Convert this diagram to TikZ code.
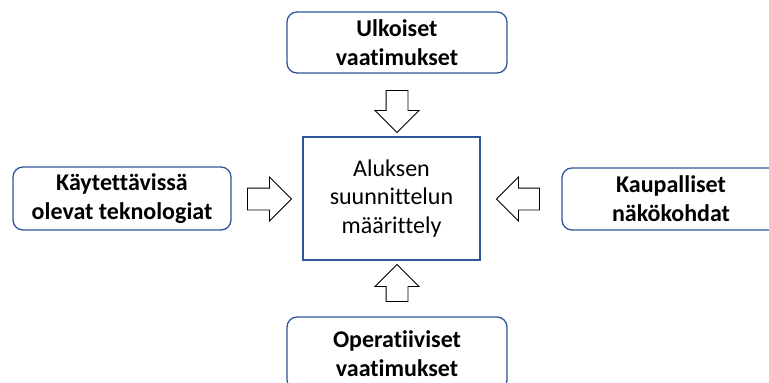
\documentclass[tikz,border=0pt]{standalone}
\usepackage{fontspec}
\setmainfont[Ligatures=NoCommon]{Carlito}
\usetikzlibrary{shapes.arrows}
\definecolor{frameblue}{HTML}{2F5597}
\begin{document}
\begin{tikzpicture}[x=1pt,y=-1pt,
  factor/.style={draw=frameblue, line width=1.3pt, rounded corners=10pt, fill=white,
    align=center, font=\fontsize{24}{29}\selectfont\bfseries, inner sep=0pt},
  core/.style={draw=frameblue, line width=2.2pt, align=center,
    font=\fontsize{24}{28.5}\selectfont, inner sep=0pt},
  inarrow/.style={single arrow, draw=black, line width=0.9pt, fill=white,
    inner xsep=0pt, inner ysep=10.5pt, single arrow head extend=11pt,
    minimum height=#1},
  inarrow/.default=43pt
]
\useasboundingbox (0,0) rectangle (769,383);
\clip (0,0) rectangle (769,383);

% design definition in the middle
\node[core, minimum width=177pt, minimum height=123pt] (core) at (391.5,198.5)
  {Aluksen\\suunnittelun\\määrittely};

% influencing factors around it
\node[factor, minimum width=220pt, minimum height=61pt] (ext) at (397,42.5)
  {Ulkoiset\\vaatimukset};
\node[factor, minimum width=218pt, minimum height=63pt] (tech) at (122,198.5)
  {Käytettävissä\\olevat teknologiat};
\node[factor, minimum width=218pt, minimum height=62pt] (comm) at (671,199)
  {Kaupalliset\\näkökohdat};
\node[factor, minimum width=220pt, minimum height=73pt] (oper) at (397,353.5)
  {Operatiiviset\\vaatimukset};

% block arrows pointing into the definition
\node[inarrow=42pt, rotate=-90] (arrext) at (397,106) {};
\node[inarrow=44pt] (arrtech) at (264,199) {};
\node[inarrow=43pt, rotate=180] (arrcomm) at (523.5,199) {};
\node[inarrow=37pt, rotate=90] (arroper) at (397,288.5) {};
\end{tikzpicture}
\end{document}
